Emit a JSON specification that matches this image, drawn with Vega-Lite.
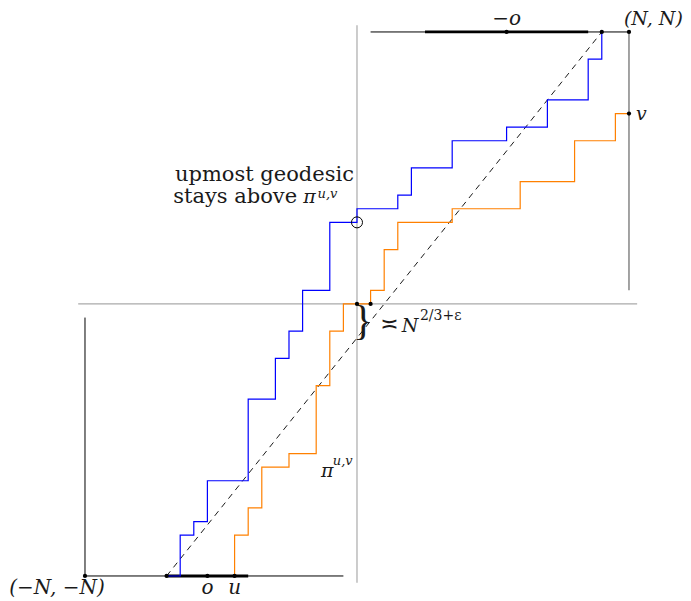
{
  "$schema": "https://vega.github.io/schema/vega-lite/v6.json",
  "width": 691,
  "height": 601,
  "autosize": {"type": "none"},
  "padding": 0,
  "background": "white",
  "config": {"view": {"stroke": null}},
  "datasets": {
    "segments": [
      {"kind": "axis", "x": -20.5, "y": 0, "x2": 20.6, "y2": 0},
      {"kind": "axis", "x": 0, "y": -20.5, "x2": 0, "y2": 20.5},
      {"kind": "frame", "x": -20, "y": -20, "x2": -1, "y2": -20},
      {"kind": "frame", "x": -20, "y": -20, "x2": -20, "y2": -1},
      {"kind": "frame", "x": 1, "y": 20, "x2": 20, "y2": 20},
      {"kind": "frameGrey", "x": 20, "y": 20, "x2": 20, "y2": 1},
      {"kind": "thick", "x": -14, "y": -20, "x2": -8, "y2": -20},
      {"kind": "thick", "x": 5, "y": 20, "x2": 17, "y2": 20},
      {"kind": "diag", "x": -14, "y": -20, "x2": 18, "y2": 20}
    ],
    "paths": [
      {"path": "blue", "i": 0, "x": -14, "y": -20},
      {"path": "blue", "i": 1, "x": -13, "y": -20},
      {"path": "blue", "i": 2, "x": -13, "y": -17},
      {"path": "blue", "i": 3, "x": -12, "y": -17},
      {"path": "blue", "i": 4, "x": -12, "y": -16},
      {"path": "blue", "i": 5, "x": -11, "y": -16},
      {"path": "blue", "i": 6, "x": -11, "y": -13},
      {"path": "blue", "i": 7, "x": -8, "y": -13},
      {"path": "blue", "i": 8, "x": -8, "y": -7},
      {"path": "blue", "i": 9, "x": -6, "y": -7},
      {"path": "blue", "i": 10, "x": -6, "y": -4},
      {"path": "blue", "i": 11, "x": -5, "y": -4},
      {"path": "blue", "i": 12, "x": -5, "y": -2},
      {"path": "blue", "i": 13, "x": -4, "y": -2},
      {"path": "blue", "i": 14, "x": -4, "y": 1},
      {"path": "blue", "i": 15, "x": -2, "y": 1},
      {"path": "blue", "i": 16, "x": -2, "y": 6},
      {"path": "blue", "i": 17, "x": 0, "y": 6},
      {"path": "blue", "i": 18, "x": 0, "y": 7},
      {"path": "blue", "i": 19, "x": 3, "y": 7},
      {"path": "blue", "i": 20, "x": 3, "y": 8},
      {"path": "blue", "i": 21, "x": 4, "y": 8},
      {"path": "blue", "i": 22, "x": 4, "y": 10},
      {"path": "blue", "i": 23, "x": 7, "y": 10},
      {"path": "blue", "i": 24, "x": 7, "y": 12},
      {"path": "blue", "i": 25, "x": 11, "y": 12},
      {"path": "blue", "i": 26, "x": 11, "y": 13},
      {"path": "blue", "i": 27, "x": 14, "y": 13},
      {"path": "blue", "i": 28, "x": 14, "y": 15},
      {"path": "blue", "i": 29, "x": 17, "y": 15},
      {"path": "blue", "i": 30, "x": 17, "y": 18},
      {"path": "blue", "i": 31, "x": 18, "y": 18},
      {"path": "blue", "i": 32, "x": 18, "y": 20},
      {"path": "orange", "i": 0, "x": -9, "y": -20},
      {"path": "orange", "i": 1, "x": -9, "y": -17},
      {"path": "orange", "i": 2, "x": -8, "y": -17},
      {"path": "orange", "i": 3, "x": -8, "y": -15},
      {"path": "orange", "i": 4, "x": -7, "y": -15},
      {"path": "orange", "i": 5, "x": -7, "y": -12},
      {"path": "orange", "i": 6, "x": -5, "y": -12},
      {"path": "orange", "i": 7, "x": -5, "y": -11},
      {"path": "orange", "i": 8, "x": -3, "y": -11},
      {"path": "orange", "i": 9, "x": -3, "y": -6},
      {"path": "orange", "i": 10, "x": -2, "y": -6},
      {"path": "orange", "i": 11, "x": -2, "y": -2},
      {"path": "orange", "i": 12, "x": -1, "y": -2},
      {"path": "orange", "i": 13, "x": -1, "y": 0},
      {"path": "orange", "i": 14, "x": 1, "y": 0},
      {"path": "orange", "i": 15, "x": 1, "y": 1},
      {"path": "orange", "i": 16, "x": 2, "y": 1},
      {"path": "orange", "i": 17, "x": 2, "y": 4},
      {"path": "orange", "i": 18, "x": 3, "y": 4},
      {"path": "orange", "i": 19, "x": 3, "y": 6},
      {"path": "orange", "i": 20, "x": 7, "y": 6},
      {"path": "orange", "i": 21, "x": 7, "y": 7},
      {"path": "orange", "i": 22, "x": 12, "y": 7},
      {"path": "orange", "i": 23, "x": 12, "y": 9},
      {"path": "orange", "i": 24, "x": 16, "y": 9},
      {"path": "orange", "i": 25, "x": 16, "y": 12},
      {"path": "orange", "i": 26, "x": 19, "y": 12},
      {"path": "orange", "i": 27, "x": 19, "y": 14},
      {"path": "orange", "i": 28, "x": 20, "y": 14}
    ],
    "dots": [
      {"x": -20, "y": -20}, {"x": -14, "y": -20}, {"x": -11, "y": -20}, {"x": -9, "y": -20},
      {"x": 0, "y": 0}, {"x": 1, "y": 0}, {"x": 11, "y": 20}, {"x": 18, "y": 20},
      {"x": 20, "y": 20}, {"x": 20, "y": 14}
    ],
    "rings": [{"x": 0, "y": 6}],
    "labels": [
      {"role": "textR", "text": "upmost geodesic", "x": -0.22, "y": 9.07},
      {"role": "textR", "text": "stays above", "x": -4.4, "y": 7.45},
      {"role": "mathL", "text": "π", "x": -3.95, "y": 7.45},
      {"role": "supL", "text": "u,v", "x": -2.9, "y": 7.82},
      {"role": "supL", "text": "u,v", "x": -1.78, "y": -11.84},
      {"role": "supUpL", "text": "2/3+ε", "x": 4.63, "y": -1.18},
      {"role": "mathL", "text": "π", "x": -2.65, "y": -12.72},
      {"role": "mathL", "text": "v", "x": 20.51, "y": 13.55},
      {"role": "mathL", "text": "(N, N)", "x": 19.63, "y": 20.51},
      {"role": "mathL", "text": "N", "x": 3.29, "y": -2.08},
      {"role": "mathC", "text": "−o", "x": 11, "y": 20.51},
      {"role": "mathC", "text": "o", "x": -11, "y": -21.35},
      {"role": "mathC", "text": "u", "x": -9, "y": -21.35},
      {"role": "mathC", "text": "(−N, −N)", "x": -22.06, "y": -21.32},
      {"role": "symC", "text": "≍", "x": 2.39, "y": -2.0},
      {"role": "brace", "text": "}", "x": 0.45, "y": -1.25}
    ]
  },
  "encoding": {
    "x": {"field": "x", "type": "quantitative", "scale": {"domain": [-26.25, 24.56], "nice": false, "zero": false}, "axis": null},
    "y": {"field": "y", "type": "quantitative", "scale": {"domain": [-21.84, 22.35], "nice": false, "zero": false}, "axis": null}
  },
  "layer": [
    {"data": {"name": "segments"}, "transform": [{"filter": "datum.kind == 'axis'"}],
     "mark": {"type": "rule", "color": "#aaaaaa", "strokeWidth": 1.2},
     "encoding": {"x2": {"field": "x2"}, "y2": {"field": "y2"}}},
    {"data": {"name": "segments"}, "transform": [{"filter": "datum.kind == 'frame'"}],
     "mark": {"type": "rule", "color": "#000000", "strokeWidth": 1},
     "encoding": {"x2": {"field": "x2"}, "y2": {"field": "y2"}}},
    {"data": {"name": "segments"}, "transform": [{"filter": "datum.kind == 'frameGrey'"}],
     "mark": {"type": "rule", "color": "#666666", "strokeWidth": 1.2},
     "encoding": {"x2": {"field": "x2"}, "y2": {"field": "y2"}}},
    {"data": {"name": "segments"}, "transform": [{"filter": "datum.kind == 'thick'"}],
     "mark": {"type": "rule", "color": "#000000", "strokeWidth": 2.8},
     "encoding": {"x2": {"field": "x2"}, "y2": {"field": "y2"}}},
    {"data": {"name": "segments"}, "transform": [{"filter": "datum.kind == 'diag'"}],
     "mark": {"type": "rule", "color": "#000000", "strokeWidth": 0.9, "strokeDash": [6, 5]},
     "encoding": {"x2": {"field": "x2"}, "y2": {"field": "y2"}}},
    {"data": {"name": "paths"}, "transform": [{"filter": "datum.path == 'orange'"}],
     "mark": {"type": "line", "color": "#ff8000", "strokeWidth": 1.2, "interpolate": "linear"},
     "encoding": {"order": {"field": "i", "type": "quantitative"}}},
    {"data": {"name": "paths"}, "transform": [{"filter": "datum.path == 'blue'"}],
     "mark": {"type": "line", "color": "#0000ff", "strokeWidth": 1.2, "interpolate": "linear"},
     "encoding": {"order": {"field": "i", "type": "quantitative"}}},
    {"data": {"name": "dots"},
     "mark": {"type": "point", "shape": "circle", "filled": true, "color": "#000000", "size": 18, "opacity": 1}},
    {"data": {"name": "rings"},
     "mark": {"type": "point", "shape": "circle", "filled": false, "color": "#000000", "size": 121, "strokeWidth": 1, "opacity": 1}},
    {"data": {"name": "labels"}, "transform": [{"filter": "datum.role == 'textR'"}],
     "mark": {"type": "text", "align": "right", "baseline": "alphabetic", "font": "DejaVu Serif", "fontSize": 21, "color": "#1a1a1a"},
     "encoding": {"text": {"field": "text"}}},
    {"data": {"name": "labels"}, "transform": [{"filter": "datum.role == 'supL'"}],
     "mark": {"type": "text", "align": "left", "baseline": "alphabetic", "font": "DejaVu Serif", "fontStyle": "italic", "fontSize": 13, "color": "#1a1a1a"},
     "encoding": {"text": {"field": "text"}}},
    {"data": {"name": "labels"}, "transform": [{"filter": "datum.role == 'supUpL'"}],
     "mark": {"type": "text", "align": "left", "baseline": "alphabetic", "font": "DejaVu Serif", "fontSize": 14, "color": "#1a1a1a"},
     "encoding": {"text": {"field": "text"}}},
    {"data": {"name": "labels"}, "transform": [{"filter": "datum.role == 'mathL'"}],
     "mark": {"type": "text", "align": "left", "baseline": "alphabetic", "font": "DejaVu Serif", "fontStyle": "italic", "fontSize": 19, "color": "#1a1a1a"},
     "encoding": {"text": {"field": "text"}}},
    {"data": {"name": "labels"}, "transform": [{"filter": "datum.role == 'mathC'"}],
     "mark": {"type": "text", "align": "center", "baseline": "alphabetic", "font": "DejaVu Serif", "fontStyle": "italic", "fontSize": 20, "color": "#1a1a1a"},
     "encoding": {"text": {"field": "text"}}},
    {"data": {"name": "labels"}, "transform": [{"filter": "datum.role == 'symC'"}],
     "mark": {"type": "text", "align": "center", "baseline": "alphabetic", "font": "DejaVu Sans", "fontSize": 22, "color": "#1a1a1a"},
     "encoding": {"text": {"field": "text"}}},
    {"data": {"name": "labels"}, "transform": [{"filter": "datum.role == 'brace'"}],
     "mark": {"type": "text", "align": "center", "baseline": "middle", "font": "Liberation Serif", "fontSize": 42, "color": "#1a1a1a"},
     "encoding": {"text": {"field": "text"}}}
  ]
}
